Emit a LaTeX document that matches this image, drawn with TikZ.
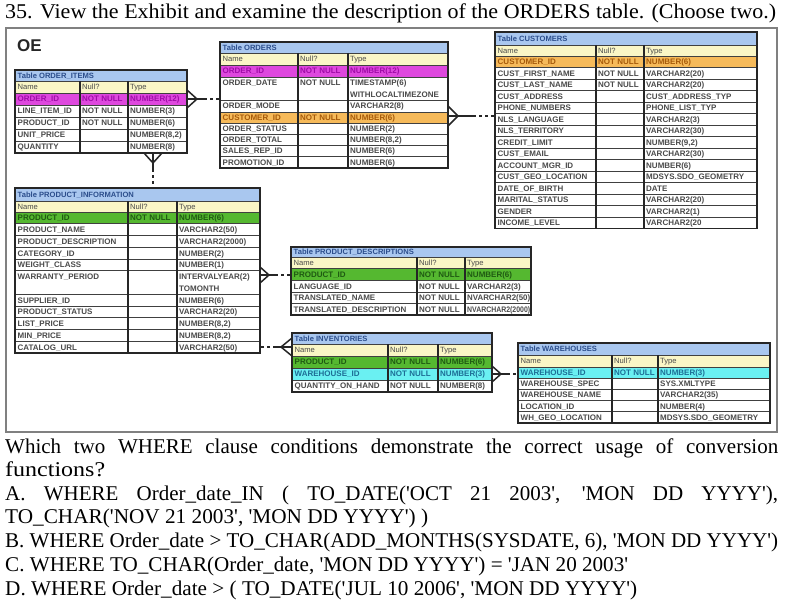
\documentclass[tikz,border=0pt]{standalone}
\usepackage{fontspec}
\usepackage{graphicx}
\setmainfont{Liberation Serif}
\newfontfamily\tabfont{Liberation Sans}
\definecolor{titlebg}{HTML}{A9C7EF}
\definecolor{headbg}{HTML}{FAF6C6}
\definecolor{magbg}{HTML}{DE48DE}
\definecolor{magtx}{HTML}{A00CA8}
\definecolor{orbg}{HTML}{F6BA5A}
\definecolor{ortx}{HTML}{A65A0A}
\definecolor{grbg}{HTML}{55B830}
\definecolor{grtx}{HTML}{1F5A12}
\definecolor{cybg}{HTML}{6AF0F2}
\definecolor{cytx}{HTML}{1D6E96}
\definecolor{celltx}{HTML}{4A4A4A}
\definecolor{titletx}{HTML}{2C4E8C}
\newsavebox\cellbox
\newlength\cellw
\newcommand\fitcell[2]{\setlength\cellw{#1}\sbox\cellbox{#2}\ifdim\wd\cellbox>\cellw\resizebox{\cellw}{\height}{\usebox\cellbox}\else\usebox\cellbox\fi}
\newcommand\fitline[2]{\resizebox{#1}{\height}{#2}}
\newcommand\sq{\textquotesingle}
\newcounter{nc}
\newcommand\tabat[4]{\def\TX{#1}\def\CA{#2}\def\CB{#3}\def\TR{#4}}
\newcommand\cell[5]{\if\relax\detokenize{#5}\relax\else\stepcounter{nc}\node[cell,#4] (n\arabic{nc}) at ({#1},{#2}) {\fitcell{#3}{#5}};\fi}
\newcommand\ttl[3]{%
  \fill[titlebg] (\TX,#1) rectangle (\TR,#2);
  \stepcounter{nc}\node[ttltext] (n\arabic{nc}) at ({\TX+2.5},{(#1+#2)/2+2.8}) {#3};}
\newcommand\thd[2]{%
  \fill[headbg] (\TX,#1) rectangle (\TR,#2);
  \draw[rowline] (\TX,#1) -- (\TR,#1);
  \stepcounter{nc}\node[headtext] (n\arabic{nc}) at ({\TX+2.5},{(#1+#2)/2+2.8}) {Name};
  \stepcounter{nc}\node[headtext] (n\arabic{nc}) at ({\CA+2},{(#1+#2)/2+2.8}) {Null?};
  \stepcounter{nc}\node[headtext] (n\arabic{nc}) at ({\CB+2},{(#1+#2)/2+2.8}) {Type};}
\newcommand\trow[7]{%
  \fill[#3] (\TX,#1) rectangle (\TR,#2);
  \draw[rowline] (\TX,#1) -- (\TR,#1);
  \cell{\TX+2.5}{(#1+#2)/2+2.9}{\dimexpr\CA pt-\TX pt-4pt\relax}{text=#4}{#5}
  \cell{\CA+2}{(#1+#2)/2+2.9}{\dimexpr\CB pt-\CA pt-3pt\relax}{text=#4}{#6}
  \cell{\CB+2}{(#1+#2)/2+2.9}{\dimexpr\TR pt-\CB pt-3pt\relax}{text=#4}{#7}}
\newcommand\trowtwo[6]{%
  \fill[white] (\TX,#1) rectangle (\TR,#2);
  \draw[rowline] (\TX,#1) -- (\TR,#1);
  \cell{\TX+2.5}{#1+(#2-#1)/4+2.9}{\dimexpr\CA pt-\TX pt-4pt\relax}{}{#3}
  \cell{\CA+2}{#1+(#2-#1)/4+2.9}{\dimexpr\CB pt-\CA pt-3pt\relax}{}{#4}
  \cell{\CB+2}{#1+(#2-#1)/4+2.9}{\dimexpr\TR pt-\CB pt-3pt\relax}{}{#5}
  \cell{\CB+2}{#1+3*(#2-#1)/4+2.9}{\dimexpr\TR pt-\CB pt-3pt\relax}{}{#6}}
\newcommand\tframe[3]{%
  \draw[colline] (\CA,#2) -- (\CA,#3) (\CB,#2) -- (\CB,#3);
  \draw[frame] (\TX,#1) rectangle (\TR,#3);}
\tikzset{
  cell/.style={anchor=base west, inner sep=0pt, font=\tabfont\bfseries\fontsize{8}{9}\selectfont, text=celltx},
  ttltext/.style={anchor=base west, inner sep=0pt, font=\tabfont\bfseries\fontsize{7.6}{9}\selectfont, text=titletx},
  headtext/.style={anchor=base west, inner sep=0pt, font=\tabfont\fontsize{7.6}{9}\selectfont, text=celltx},
  rowline/.style={line width=0.9pt, draw=black!75},
  frame/.style={line width=1.8pt, draw=black!85},
  colline/.style={line width=1.6pt, draw=black!85},
  conn/.style={line width=1.5pt, draw=black!85},
  conndash/.style={conn, dash pattern=on 3pt off 3pt},
  qtext/.style={anchor=base west, inner sep=0pt, font=\fontsize{21}{25}\selectfont},
}
\begin{document}
\begin{tikzpicture}[x=1pt,y=-1pt]
\useasboundingbox (0,0) rectangle (791,607);
\fill[white] (0,0) rectangle (791,607);
% question header
\node[qtext] (q0) at (5,19) {\fitline{771pt}{35. View the Exhibit and examine the description of the ORDERS table. (Choose two.)}};
% outer exhibit frame
\draw[line width=1.6pt, draw=black!50] (6,28) rectangle (777,432);
\node[anchor=base west, inner sep=0pt, font=\tabfont\bfseries\fontsize{17}{17}\selectfont, text=black!85] (oe) at (17,52) {OE};

% ORDER_ITEMS
\tabat{15}{80}{128}{187}
\ttl{70}{81}{Table ORDER\_ITEMS}
\thd{81}{93}
\trow{93}{105}{magbg}{magtx}{ORDER\_ID}{NOT NULL}{NUMBER(12)}
\trow{105}{117}{white}{celltx}{LINE\_ITEM\_ID}{NOT NULL}{NUMBER(3)}
\trow{117}{129}{white}{celltx}{PRODUCT\_ID}{NOT NULL}{NUMBER(6)}
\trow{129}{141}{white}{celltx}{UNIT\_PRICE}{}{NUMBER(8,2)}
\trow{141}{153}{white}{celltx}{QUANTITY}{}{NUMBER(8)}
\tframe{70}{81}{153}

% ORDERS
\tabat{220}{298}{348}{448}
\ttl{42}{53}{Table ORDERS}
\thd{53}{65}
\trow{65}{77}{magbg}{magtx}{ORDER\_ID}{NOT NULL}{NUMBER(12)}
\trowtwo{77}{100}{ORDER\_DATE}{NOT NULL}{TIMESTAMP(6)}{WITHLOCALTIMEZONE}
\trow{100}{112}{white}{celltx}{ORDER\_MODE}{}{VARCHAR2(8)}
\trow{112}{123.5}{orbg}{ortx}{CUSTOMER\_ID}{NOT NULL}{NUMBER(6)}
\trow{123.5}{134.5}{white}{celltx}{ORDER\_STATUS}{}{NUMBER(2)}
\trow{134.5}{145.5}{white}{celltx}{ORDER\_TOTAL}{}{NUMBER(8,2)}
\trow{145.5}{156.5}{white}{celltx}{SALES\_REP\_ID}{}{NUMBER(6)}
\trow{156.5}{168}{white}{celltx}{PROMOTION\_ID}{}{NUMBER(6)}
\tframe{42}{53}{168}

% CUSTOMERS
\tabat{495}{596}{644}{757}
\ttl{32}{45}{Table CUSTOMERS}
\thd{45}{56}
\trow{56}{67.5}{orbg}{ortx}{CUSTOMER\_ID}{NOT NULL}{NUMBER(6)}
\trow{67.5}{79}{white}{celltx}{CUST\_FIRST\_NAME}{NOT NULL}{VARCHAR2(20)}
\trow{79}{90.5}{white}{celltx}{CUST\_LAST\_NAME}{NOT NULL}{VARCHAR2(20)}
\trow{90.5}{102}{white}{celltx}{CUST\_ADDRESS}{}{CUST\_ADDRESS\_TYP}
\trow{102}{113.5}{white}{celltx}{PHONE\_NUMBERS}{}{PHONE\_LIST\_TYP}
\trow{113.5}{125}{white}{celltx}{NLS\_LANGUAGE}{}{VARCHAR2(3)}
\trow{125}{136.5}{white}{celltx}{NLS\_TERRITORY}{}{VARCHAR2(30)}
\trow{136.5}{148}{white}{celltx}{CREDIT\_LIMIT}{}{NUMBER(9,2)}
\trow{148}{159.5}{white}{celltx}{CUST\_EMAIL}{}{VARCHAR2(30)}
\trow{159.5}{171}{white}{celltx}{ACCOUNT\_MGR\_ID}{}{NUMBER(6)}
\trow{171}{182.5}{white}{celltx}{CUST\_GEO\_LOCATION}{}{MDSYS.SDO\_GEOMETRY}
\trow{182.5}{194}{white}{celltx}{DATE\_OF\_BIRTH}{}{DATE}
\trow{194}{205.5}{white}{celltx}{MARITAL\_STATUS}{}{VARCHAR2(20)}
\trow{205.5}{217}{white}{celltx}{GENDER}{}{VARCHAR2(1)}
\trow{217}{228.5}{white}{celltx}{INCOME\_LEVEL}{}{VARCHAR2(20}
\tframe{32}{45}{228.5}

% PRODUCT_INFORMATION
\tabat{15}{128}{177}{260}
\ttl{188}{201}{Table PRODUCT\_INFORMATION}
\thd{201}{212}
\trow{212}{223.75}{grbg}{grtx}{PRODUCT\_ID}{NOT NULL}{NUMBER(6)}
\trow{223.75}{235.5}{white}{celltx}{PRODUCT\_NAME}{}{VARCHAR2(50)}
\trow{235.5}{247.25}{white}{celltx}{PRODUCT\_DESCRIPTION}{}{VARCHAR2(2000)}
\trow{247.25}{259}{white}{celltx}{CATEGORY\_ID}{}{NUMBER(2)}
\trow{259}{270.75}{white}{celltx}{WEIGHT\_CLASS}{}{NUMBER(1)}
\trowtwo{270.75}{294.25}{WARRANTY\_PERIOD}{}{INTERVALYEAR(2)}{TOMONTH}
\trow{294.25}{306}{white}{celltx}{SUPPLIER\_ID}{}{NUMBER(6)}
\trow{306}{317.75}{white}{celltx}{PRODUCT\_STATUS}{}{VARCHAR2(20)}
\trow{317.75}{329.5}{white}{celltx}{LIST\_PRICE}{}{NUMBER(8,2)}
\trow{329.5}{341.25}{white}{celltx}{MIN\_PRICE}{}{NUMBER(8,2)}
\trow{341.25}{353}{white}{celltx}{CATALOG\_URL}{}{VARCHAR2(50)}
\tframe{188}{201}{353}

% PRODUCT_DESCRIPTIONS
\tabat{291}{417}{465}{531}
\ttl{247}{257}{Table PRODUCT\_DESCRIPTIONS}
\thd{257}{268}
\trow{268}{280.5}{grbg}{grtx}{PRODUCT\_ID}{NOT NULL}{NUMBER(6)}
\trow{280.5}{292}{white}{celltx}{LANGUAGE\_ID}{NOT NULL}{VARCHAR2(3)}
\trow{292}{303.5}{white}{celltx}{TRANSLATED\_NAME}{NOT NULL}{NVARCHAR2(50)}
\trow{303.5}{315}{white}{celltx}{TRANSLATED\_DESCRIPTION}{NOT NULL}{NVARCHAR2(2000)}
\tframe{247}{257}{315}

% INVENTORIES
\tabat{292}{388}{438}{492}
\ttl{333}{344}{Table INVENTORIES}
\thd{344}{356}
\trow{356}{368}{grbg}{grtx}{PRODUCT\_ID}{NOT NULL}{NUMBER(6)}
\trow{368}{380}{cybg}{cytx}{WAREHOUSE\_ID}{NOT NULL}{NUMBER(3)}
\trow{380}{392}{white}{celltx}{QUANTITY\_ON\_HAND}{NOT NULL}{NUMBER(8)}
\tframe{333}{344}{392}

% WAREHOUSES
\tabat{518}{612}{658}{770}
\ttl{343}{355}{Table WAREHOUSES}
\thd{355}{367}
\trow{367}{378.2}{cybg}{cytx}{WAREHOUSE\_ID}{NOT NULL}{NUMBER(3)}
\trow{378.2}{389.4}{white}{celltx}{WAREHOUSE\_SPEC}{}{SYS.XMLTYPE}
\trow{389.4}{400.6}{white}{celltx}{WAREHOUSE\_NAME}{}{VARCHAR2(35)}
\trow{400.6}{411.8}{white}{celltx}{LOCATION\_ID}{}{NUMBER(4)}
\trow{411.8}{423}{white}{celltx}{WH\_GEO\_LOCATION}{}{MDSYS.SDO\_GEOMETRY}
\tframe{343}{355}{423}

% connectors (crow's foot + dashed)
% ORDER_ITEMS -> ORDERS
\coordinate (c1a) at (187,99); \coordinate (c1t) at (197,99);
\coordinate (c1u) at (187,90); \coordinate (c1d) at (187,108);
\coordinate (c1s) at (204,99); \coordinate (c1e) at (220,99);
\draw[conn] (c1u) -- (c1t) -- (c1d); \draw[conn] (c1a) -- (c1s);
\draw[conndash] (c1s) -- (c1e);
% ORDERS -> CUSTOMERS
\coordinate (c2a) at (448,116); \coordinate (c2t) at (458,116);
\coordinate (c2u) at (448,106); \coordinate (c2d) at (448,126);
\coordinate (c2s) at (473,116); \coordinate (c2e) at (495,116);
\draw[conn] (c2u) -- (c2t) -- (c2d); \draw[conn] (c2a) -- (c2s);
\draw[conndash] (c2s) -- (c2e);
% ORDER_ITEMS -> PRODUCT_INFORMATION
\coordinate (c3a) at (153,153); \coordinate (c3t) at (153,163);
\coordinate (c3u) at (144,153); \coordinate (c3d) at (162,153);
\coordinate (c3s) at (153,169); \coordinate (c3e) at (153,188);
\draw[conn] (c3u) -- (c3t) -- (c3d); \draw[conn] (c3a) -- (c3s);
\draw[conndash] (c3s) -- (c3e);
% PRODUCT_INFORMATION -> PRODUCT_DESCRIPTIONS
\coordinate (c4a) at (260,275); \coordinate (c4t) at (269,275);
\coordinate (c4u) at (260,267); \coordinate (c4d) at (260,283);
\coordinate (c4s) at (275,275); \coordinate (c4e) at (291,275);
\draw[conn] (c4u) -- (c4t) -- (c4d); \draw[conn] (c4a) -- (c4s);
\draw[conndash] (c4s) -- (c4e);
% PRODUCT_INFORMATION -> INVENTORIES
\coordinate (c5a) at (292,347); \coordinate (c5t) at (281,347);
\coordinate (c5u) at (292,338); \coordinate (c5d) at (292,356);
\coordinate (c5s) at (276,347); \coordinate (c5e) at (260,347);
\draw[conn] (c5u) -- (c5t) -- (c5d); \draw[conn] (c5a) -- (c5s);
\draw[conndash] (c5s) -- (c5e);
% INVENTORIES -> WAREHOUSES
\coordinate (c6a) at (492,374); \coordinate (c6t) at (501,374);
\coordinate (c6u) at (492,366); \coordinate (c6d) at (492,382);
\coordinate (c6s) at (507,374); \coordinate (c6e) at (518,374);
\draw[conn] (c6u) -- (c6t) -- (c6d); \draw[conn] (c6a) -- (c6s);
\draw[conndash] (c6s) -- (c6e);

% question text
\node[qtext] (q1) at (5,453) {\makebox[773pt][s]{Which two WHERE clause conditions demonstrate the correct usage of conversion}};
\node[qtext] (q2) at (5,476) {\fitline{100pt}{functions?}};
\node[qtext] (q3) at (5,500) {\makebox[773pt][s]{A. WHERE Order\_date\_IN ( TO\_DATE(\sq OCT 21 2003\sq, \sq MON DD YYYY\sq),}};
\node[qtext] (q4) at (5,523) {\fitline{423pt}{TO\_CHAR(\sq NOV 21 2003\sq, \sq MON DD YYYY\sq) )}};
\node[qtext] (q5) at (5,547) {\fitline{773pt}{B. WHERE Order\_date > TO\_CHAR(ADD\_MONTHS(SYSDATE, 6), \sq MON DD YYYY\sq)}};
\node[qtext] (q6) at (5,571) {\fitline{623pt}{C. WHERE TO\_CHAR(Order\_date, \sq MON DD YYYY\sq) = \sq JAN 20 2003\sq}};
\node[qtext] (q7) at (5,595) {\fitline{632pt}{D. WHERE Order\_date > ( TO\_DATE(\sq JUL 10 2006\sq, \sq MON DD YYYY\sq)}};
\end{tikzpicture}
\end{document}
